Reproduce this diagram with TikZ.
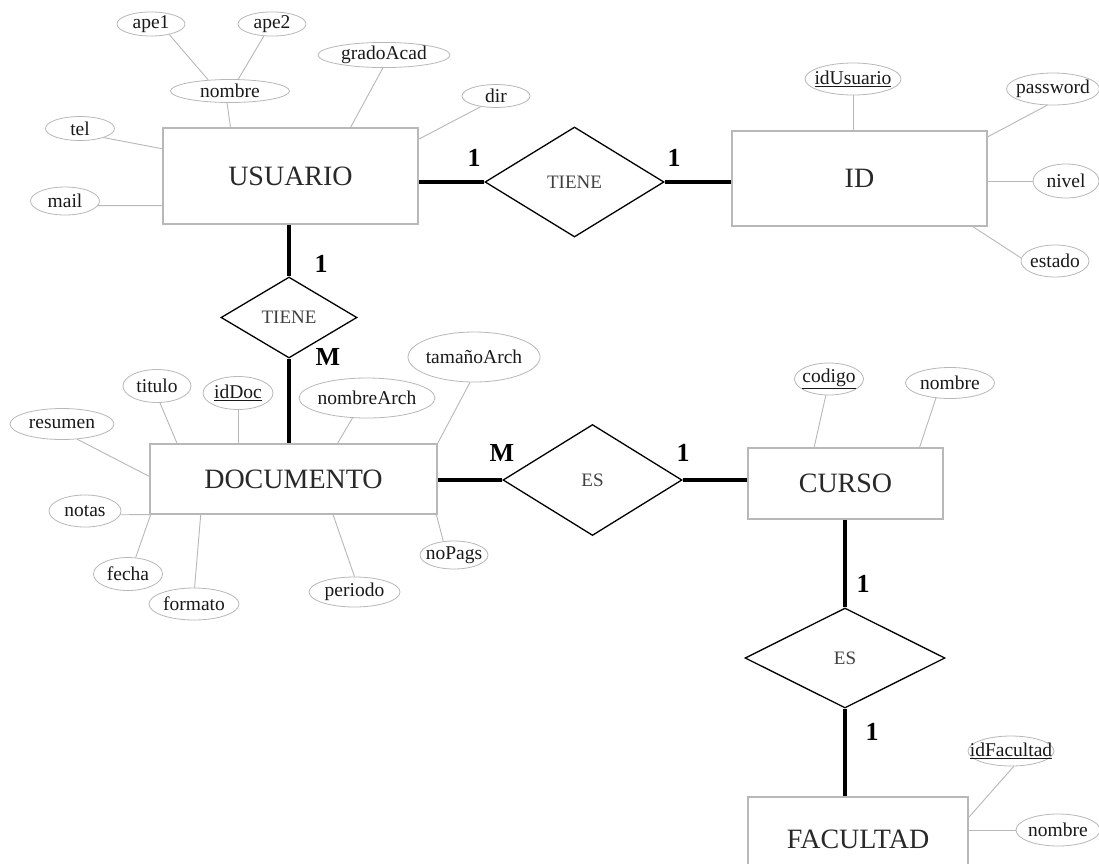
\documentclass[tikz,border=0pt]{standalone}
\usepackage{fontspec}
\setmainfont{Liberation Serif}
\usetikzlibrary{shapes.geometric}
\definecolor{lgray}{gray}{0.72}
\definecolor{tgray}{gray}{0.16}
\newcommand{\atr}[1]{\makebox[0pt]{#1}}

\begin{document}
\begin{tikzpicture}[x=1pt,y=-1pt]
    \tikzstyle{entity}=[rectangle, draw=lgray, line width=1.2, text=tgray, font=\fontsize{28}{32}\selectfont]
    \tikzstyle{rel}=[diamond, draw=black, line width=1.3, inner sep=0pt, text=black!75, font=\fontsize{19}{22}\selectfont]
    \tikzstyle{attr}=[ellipse, draw=lgray, line width=0.8, inner sep=0pt, text=black!90, font=\fontsize{19.5}{22}\selectfont]
    \tikzstyle{card}=[font=\fontsize{26}{30}\selectfont\bfseries]
    \tikzstyle{link}=[lgray, line width=0.9]
    \tikzstyle{rline}=[line width=4]
    \path[use as bounding box, fill=white] (0,0) rectangle (1099,863);

    \node[entity, minimum width=255, minimum height=96] (usuario) at (290.5,176) {USUARIO};
    \node[entity, minimum width=255, minimum height=95] (id) at (859.5,178.5) {ID};
    \node[entity, minimum width=287, minimum height=70] (doc) at (293.5,479) {DOCUMENTO};
    \node[entity, minimum width=195, minimum height=71] (curso) at (845.5,483.5) {CURSO};
    \node[entity, minimum width=220, minimum height=84] (facultad) at (858,839) {FACULTAD};

    \node[rel, minimum width=179, minimum height=110] (tiene1) at (574.5,182) {TIENE};
    \node[rel, minimum width=136, minimum height=81] (tiene2) at (289,317.5) {TIENE};
    \node[rel, minimum width=179, minimum height=111] (es1) at (592.5,480) {ES};
    \node[rel, minimum width=200, minimum height=100] (es2) at (845,658) {ES};

    \draw[rline] (tiene1.west) -- (tiene1.west -| usuario.east);
    \draw[rline] (tiene1.east) -- (tiene1.east -| id.west);
    \draw[rline] (tiene2.north) -- (tiene2.north |- usuario.south);
    \draw[rline] (tiene2.south) -- (tiene2.south |- doc.north);
    \draw[rline] (es1.west) -- (es1.west -| doc.east);
    \draw[rline] (es1.east) -- (es1.east -| curso.west);
    \draw[rline] (es2.north) -- (es2.north |- curso.south);
    \draw[rline] (es2.south) -- (es2.south |- facultad.north);

    \node[card] (c1) at (474,158) {1};
    \node[card] (c2) at (674,158) {1};
    \node[card] (c3) at (321,264) {1};
    \node[card] (c4) at (328,357) {M};
    \node[card] (c5) at (502,453) {M};
    \node[card] (c6) at (683,453) {1};
    \node[card] (c7) at (863,584) {1};
    \node[card] (c8) at (872,732) {1};

    \node[attr, minimum width=68, minimum height=20] (ape1) at (151,24) {\atr{ape1}};
    \node[attr, minimum width=68, minimum height=20] (ape2) at (272,24) {\atr{ape2}};
    \node[attr, minimum width=119, minimum height=23] (nombre) at (230,91) {\atr{nombre}};
    \node[attr, minimum width=132, minimum height=24] (grado) at (384,55) {\atr{gradoAcad}};
    \node[attr, minimum width=68, minimum height=23] (dir) at (496,96) {\atr{dir}};
    \node[attr, minimum width=69, minimum height=24] (tel) at (80,128.5) {\atr{tel}};
    \node[attr, minimum width=69, minimum height=28] (mail) at (65,201) {\atr{mail}};

    \node[attr, minimum width=96, minimum height=32] (idusr) at (853,79) {\atr{\underline{idUsuario}}};
    \node[attr, minimum width=93, minimum height=32] (password) at (1053,89) {\atr{password}};
    \node[attr, minimum width=66, minimum height=34] (nivel) at (1066,181) {\atr{nivel}};
    \node[attr, minimum width=68, minimum height=32] (estado) at (1055,261) {\atr{estado}};

    \node[attr, minimum width=68, minimum height=33] (titulo) at (157,386) {\atr{titulo}};
    \node[attr, minimum width=70, minimum height=33] (iddoc) at (238,393) {\atr{\underline{idDoc}}};
    \node[attr, minimum width=104, minimum height=31] (resumen) at (62,424) {\atr{resumen}};
    \node[attr, minimum width=136, minimum height=40] (narch) at (367,398) {\atr{nombreArch}};
    \node[attr, minimum width=132, minimum height=50] (tamano) at (474,357) {\atr{tamañoArch}};
    \node[attr, minimum width=72, minimum height=32] (notas) at (85,511) {\atr{notas}};
    \node[attr, minimum width=69, minimum height=33] (fecha) at (128,574) {\atr{fecha}};
    \node[attr, minimum width=90, minimum height=32] (formato) at (194,604) {\atr{formato}};
    \node[attr, minimum width=91, minimum height=30] (periodo) at (354.5,592) {\atr{periodo}};
    \node[attr, minimum width=68, minimum height=28] (nopags) at (454,555) {\atr{noPags}};

    \node[attr, minimum width=69, minimum height=32] (codigo) at (829,379) {\atr{\underline{codigo}}};
    \node[attr, minimum width=89, minimum height=31] (cnombre) at (950,383) {\atr{nombre}};
    \node[attr, minimum width=86, minimum height=30] (idfac) at (1011,751) {\atr{\underline{idFacultad}}};
    \node[attr, minimum width=84, minimum height=32] (fnombre) at (1058,830) {\atr{nombre}};

    \draw[link] (ape1.-30) -- (nombre.153);
    \draw[link] (ape2.236) -- (nombre.55);
    \draw[link] (nombre.256) -- (usuario.141);
    \draw[link] (grado.265) -- (usuario.39);
    \draw[link] (dir.215) -- (usuario.16);
    \draw[link] (tel.-21) -- (usuario.168);
    \draw[link] (mail.-8) -- (usuario.193);

    \draw[link] (idusr.south) -- (idusr.south |- id.north);
    \draw[link] (password.250) -- (id.18);
    \draw[link] (nivel.west) -- (nivel.west -| id.east);
    \draw[link] (estado.175) -- (id.-23);

    \draw[link] (titulo.-80) -- (doc.163.5);
    \draw[link] (iddoc.south) -- (iddoc.south |- doc.north);
    \draw[link] (resumen.-45) -- (doc.179);
    \draw[link] (narch.234) -- (doc.39);
    \draw[link] (tamano.261) -- (doc.north east);
    \draw[link] (notas.-6) -- (doc.south west);
    \draw[link] (fecha.65) -- (doc.194);
    \draw[link] (formato.88) -- (doc.201);
    \draw[link] (periodo.north) -- (doc.-42);
    \draw[link] (nopags.128) -- (doc.-14.4);

    \draw[link] (codigo.259) -- (curso.131);
    \draw[link] (cnombre.227) -- (curso.26);
    \draw[link] (idfac.-80) -- (facultad.11);
    \draw[link] (fnombre.west) -- (fnombre.west -| facultad.east);
\end{tikzpicture}
\end{document}
